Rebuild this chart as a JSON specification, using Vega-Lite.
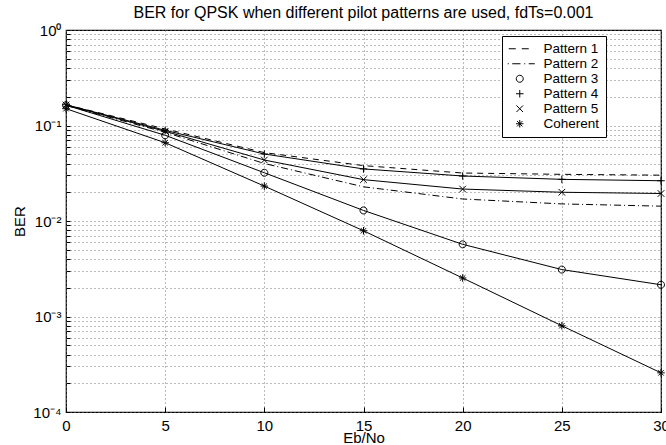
{
  "$schema": "https://vega.github.io/schema/vega-lite/v6.json",
  "width": 595,
  "height": 382,
  "autosize": {"type": "none"},
  "padding": {"left": 66, "top": 30, "right": 5, "bottom": 33},
  "background": "white",
  "config": {
    "font": "Liberation Sans",
    "view": {"stroke": "black", "strokeWidth": 1.2},
    "axis": {"labelFont": "Liberation Sans", "titleFont": "Liberation Sans", "labelColor": "black", "titleColor": "black", "domain": false, "tickColor": "black", "titleFontWeight": "normal", "labelFontSize": 15, "titleFontSize": 15}
  },
  "title": {"text": "BER for QPSK when different pilot patterns are used, fdTs=0.001", "fontSize": 16, "fontWeight": "normal", "font": "Liberation Sans", "color": "black", "anchor": "middle", "frame": "group", "offset": 2},
  "data": {"values": [
    {"x": 0, "ber": 0.165, "series": "Pattern 1"},
    {"x": 5, "ber": 0.092, "series": "Pattern 1"},
    {"x": 10, "ber": 0.052, "series": "Pattern 1"},
    {"x": 15, "ber": 0.038, "series": "Pattern 1"},
    {"x": 20, "ber": 0.0318, "series": "Pattern 1"},
    {"x": 25, "ber": 0.0308, "series": "Pattern 1"},
    {"x": 30, "ber": 0.0302, "series": "Pattern 1"},
    {"x": 0, "ber": 0.162, "series": "Pattern 2"},
    {"x": 5, "ber": 0.085, "series": "Pattern 2"},
    {"x": 10, "ber": 0.040, "series": "Pattern 2"},
    {"x": 15, "ber": 0.0228, "series": "Pattern 2"},
    {"x": 20, "ber": 0.017, "series": "Pattern 2"},
    {"x": 25, "ber": 0.0151, "series": "Pattern 2"},
    {"x": 30, "ber": 0.0143, "series": "Pattern 2"},
    {"x": 0, "ber": 0.163, "series": "Pattern 3"},
    {"x": 5, "ber": 0.079, "series": "Pattern 3"},
    {"x": 10, "ber": 0.032, "series": "Pattern 3"},
    {"x": 15, "ber": 0.0129, "series": "Pattern 3"},
    {"x": 20, "ber": 0.0057, "series": "Pattern 3"},
    {"x": 25, "ber": 0.0031, "series": "Pattern 3"},
    {"x": 30, "ber": 0.00215, "series": "Pattern 3"},
    {"x": 0, "ber": 0.165, "series": "Pattern 4"},
    {"x": 5, "ber": 0.089, "series": "Pattern 4"},
    {"x": 10, "ber": 0.0503, "series": "Pattern 4"},
    {"x": 15, "ber": 0.0351, "series": "Pattern 4"},
    {"x": 20, "ber": 0.0296, "series": "Pattern 4"},
    {"x": 25, "ber": 0.0273, "series": "Pattern 4"},
    {"x": 30, "ber": 0.0264, "series": "Pattern 4"},
    {"x": 0, "ber": 0.164, "series": "Pattern 5"},
    {"x": 5, "ber": 0.087, "series": "Pattern 5"},
    {"x": 10, "ber": 0.0435, "series": "Pattern 5"},
    {"x": 15, "ber": 0.0271, "series": "Pattern 5"},
    {"x": 20, "ber": 0.0216, "series": "Pattern 5"},
    {"x": 25, "ber": 0.0200, "series": "Pattern 5"},
    {"x": 30, "ber": 0.0194, "series": "Pattern 5"},
    {"x": 0, "ber": 0.15, "series": "Coherent"},
    {"x": 5, "ber": 0.066, "series": "Coherent"},
    {"x": 10, "ber": 0.0232, "series": "Coherent"},
    {"x": 15, "ber": 0.0079, "series": "Coherent"},
    {"x": 20, "ber": 0.00253, "series": "Coherent"},
    {"x": 25, "ber": 0.0008, "series": "Coherent"},
    {"x": 30, "ber": 0.000257, "series": "Coherent"}
  ]},
  "encoding": {
    "x": {"field": "x", "type": "quantitative", "scale": {"domain": [0, 30], "nice": false, "zero": false},
      "axis": {"title": "Eb/No", "values": [0, 5, 10, 15, 20, 25, 30], "grid": true, "gridColor": "#777", "gridDash": [1, 3], "gridWidth": 1, "tickSize": -5, "labelPadding": 11, "titlePadding": -3, "labelFlush": false}},
    "y": {"field": "ber", "type": "quantitative", "scale": {"type": "log", "domain": [0.0001, 1], "nice": false},
      "axis": {"title": "BER", "values": [0.0001, 0.0002, 0.0003, 0.0004, 0.0005, 0.0006, 0.0007, 0.0008, 0.0009, 0.001, 0.002, 0.003, 0.004, 0.005, 0.006, 0.007, 0.008, 0.009, 0.01, 0.02, 0.03, 0.04, 0.05, 0.06, 0.07, 0.08, 0.09, 0.1, 0.2, 0.3, 0.4, 0.5, 0.6, 0.7, 0.8, 0.9, 1],
        "labelExpr": "abs(datum.value-1)<1e-9 ? '10⁰' : abs(datum.value-0.1)<1e-9 ? '10⁻¹' : abs(datum.value-0.01)<1e-10 ? '10⁻²' : abs(datum.value-0.001)<1e-11 ? '10⁻³' : abs(datum.value-0.0001)<1e-12 ? '10⁻⁴' : ''",
        "grid": true, "gridColor": "#777", "gridDash": [1, 3], "gridWidth": 1, "tickSize": -4, "labelPadding": 9, "titlePadding": 5, "labelFlush": false, "labelOverlap": false}}
  },
  "layer": [
    {
      "transform": [{"filter": "datum.series == 'Pattern 1'"}],
      "mark": {"type": "line", "color": "black", "strokeWidth": 1, "strokeDash": [6, 5]}
    },
    {
      "transform": [{"filter": "datum.series == 'Pattern 2'"}],
      "mark": {"type": "line", "color": "black", "strokeWidth": 1, "strokeDash": [7, 3, 1, 3]}
    },
    {
      "transform": [{"filter": "datum.series != 'Pattern 1' && datum.series != 'Pattern 2'"}],
      "mark": {"type": "line", "color": "black", "strokeWidth": 1},
      "encoding": {"detail": {"field": "series"}}
    },
    {
      "transform": [{"filter": "datum.series != 'Pattern 1' && datum.series != 'Pattern 2'"}],
      "mark": {"type": "point", "filled": false, "stroke": "black", "strokeWidth": 1, "size": 100, "opacity": 1},
      "encoding": {
        "shape": {"field": "series", "type": "nominal",
          "scale": {"domain": ["Pattern 1", "Pattern 2", "Pattern 3", "Pattern 4", "Pattern 5", "Coherent"],
            "range": [
              "M-2.2,0H-0.8M0.4,0H1.8",
              "M-2.4,0H-2.2M-1.5,0H0.15M0.9,0H1.1M1.8,0H3",
              "M0.7,0A0.7,0.7 0 1,1 -0.7,0A0.7,0.7 0 1,1 0.7,0Z",
              "M-0.75,0H0.75M0,-0.75V0.75",
              "M-0.66,-0.66L0.66,0.66M-0.66,0.66L0.66,-0.66",
              "M-0.75,0H0.75M0,-0.75V0.75M-0.54,-0.54L0.54,0.54M-0.54,0.54L0.54,-0.54"
            ]},
          "legend": {"title": null, "orient": "none", "legendX": 436, "legendY": 6, "fillColor": "white", "strokeColor": "black", "padding": 6, "symbolOffset": 5, "symbolSize": 100, "symbolStrokeColor": "black", "symbolFillColor": "transparent", "symbolStrokeWidth": 1, "labelFontSize": 13.5, "labelFont": "Liberation Sans", "labelColor": "black", "labelOffset": 17, "rowPadding": 0, "symbolOpacity": 1}
        }
      }
    }
  ]
}
